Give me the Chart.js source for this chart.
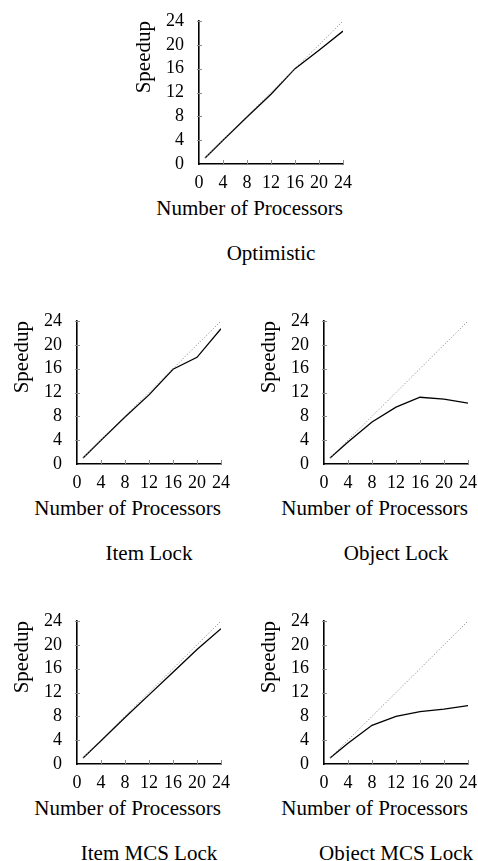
<!DOCTYPE html>
<html>
<head>
<meta charset="utf-8">
<script src="https://cdn.jsdelivr.net/npm/chart.js@4/dist/chart.umd.min.js"></script>
<style>
  body { margin: 0; background: #fff; }
  #page { position: relative; width: 478px; height: 861px; overflow: hidden; }
  canvas { position: absolute; }
  .caption, .xtitle {
    position: absolute;
    font-family: "Liberation Serif", "Times New Roman", serif;
    font-size: 21px;
    line-height: 24px;
    color: #000;
    white-space: nowrap;
  }
  .caption { text-align: center; }
  .xtitle { text-align: right; }
</style>
</head>
<body>
<div id="page"></div>
<script>
const processors = [1, 4, 8, 12, 16, 20, 24];
const optimistic = [1, 4, 7.9, 11.7, 16, 19.1, 22.3];
const itemLock = [1, 4, 7.9, 11.6, 15.9, 17.9, 22.7];
const objectLock = [1, 3.7, 7.05, 9.55, 11.2, 10.9, 10.2];
const itemMcsLock = [1, 3.9, 7.8, 11.6, 15.4, 19.2, 22.7];
const objectMcsLock = [1, 3.5, 6.5, 8, 8.8, 9.2, 9.8];
const idealProcessors = [1, 24];
const idealSpeedup = [1, 24];
const axisTicks = [0, 4, 8, 12, 16, 20, 24];

const panels = [
    { id: "optimistic", caption: "Optimistic", values: optimistic, left: 199, top: 21, capY: 253 },
    { id: "item", caption: "Item Lock", values: itemLock, left: 77, top: 321, capY: 553 },
    { id: "object", caption: "Object Lock", values: objectLock, left: 324, top: 321, capY: 553 },
    { id: "itemMcs", caption: "Item MCS Lock", values: itemMcsLock, left: 77, top: 621, capY: 853 },
    { id: "objectMcs", caption: "Object MCS Lock", values: objectMcsLock, left: 324, top: 621, capY: 853 },
];

const PLOT_W = 144;
const PLOT_H = 143;
const Y_W = 67;
const X_H = 30;
const PAD_T = 8;
const PAD_R = 12;
const FONT = "'Liberation Serif', 'Times New Roman', serif";

// little tick marks: x ticks point into the plot, y ticks cross the axis
const tickMarks = {
    id: "tickMarks",
    afterDraw(chart) {
        const { ctx, chartArea, scales } = chart;
        ctx.save();
        ctx.strokeStyle = "#8c8c8c";
        ctx.lineWidth = 1;
        ctx.beginPath();
        axisTicks.forEach((v) => {
            if (v === 0) return;
            const px = Math.round(scales.x.getPixelForValue(v)) + 0.5;
            ctx.moveTo(px, chartArea.bottom);
            ctx.lineTo(px, chartArea.bottom - 4);
            const py = Math.round(scales.y.getPixelForValue(v)) + 0.5;
            ctx.moveTo(chartArea.left - 2, py);
            ctx.lineTo(chartArea.left + 3, py);
        });
        ctx.stroke();
        ctx.restore();
    },
};

const page = document.getElementById("page");

const add_text = (cls, text, left, width, centerY) => {
    const div = document.createElement("div");
    div.className = cls;
    div.textContent = text;
    div.style.left = left + "px";
    div.style.width = width + "px";
    div.style.top = centerY - 12 + "px";
    page.appendChild(div);
};

const make_chart = (panel) => {
    const canvas = document.createElement("canvas");
    canvas.width = Y_W + PLOT_W + PAD_R;
    canvas.height = PAD_T + PLOT_H + X_H;
    canvas.style.left = panel.left - Y_W + "px";
    canvas.style.top = panel.top - PAD_T + "px";
    page.appendChild(canvas);

    // x title is wider than the plot and sits flush with its right end
    add_text("xtitle", "Number of Processors", panel.left + PLOT_W - 240, 240, panel.top + PLOT_H + 44);
    add_text("caption", panel.caption, panel.left - 40, PLOT_W + 80, panel.capY);

    const axis = (isX) => ({
        type: "linear",
        min: 0,
        max: 24,
        afterBuildTicks: (scale) => {
            scale.ticks = axisTicks.map((v) => ({ value: v }));
        },
        afterFit: (scale) => {
            if (isX) {
                scale.height = X_H;
                scale.paddingLeft = 0;
                scale.paddingRight = 0;
            } else {
                scale.width = Y_W;
                scale.paddingTop = 0;
                scale.paddingBottom = 0;
            }
        },
        grid: { display: false },
        border: { display: true, color: "#000", width: 1.6 },
        ticks: {
            color: "#000",
            padding: isX ? 0 : 7,
            maxRotation: 0,
            autoSkip: false,
            font: { family: FONT, size: 18 },
        },
        title: {
            display: !isX,
            text: "Speedup",
            align: "end",
            color: "#000",
            padding: 0,
            font: { family: FONT, size: 21 },
        },
    });

    return new Chart(canvas.getContext("2d"), {
        type: "line",
        data: {
            datasets: [
                {
                    label: "Ideal",
                    data: idealProcessors.map((p, i) => ({ x: p, y: idealSpeedup[i] })),
                    borderColor: "#7a7a7a",
                    borderWidth: 1,
                    borderDash: [1, 2],
                    pointRadius: 0,
                },
                {
                    label: panel.caption,
                    data: processors.map((p, i) => ({ x: p, y: panel.values[i] })),
                    borderColor: "#000",
                    borderWidth: 1.3,
                    pointRadius: 0,
                    tension: 0,
                },
            ],
        },
        options: {
            responsive: false,
            animation: false,
            layout: { padding: { top: PAD_T, right: PAD_R, left: 0, bottom: 0 } },
            plugins: { legend: { display: false }, tooltip: { enabled: false } },
            scales: {
                x: axis(true),
                y: axis(false),
            },
        },
        plugins: [tickMarks],
    });
};

panels.forEach(make_chart);
</script>
</body>
</html>
